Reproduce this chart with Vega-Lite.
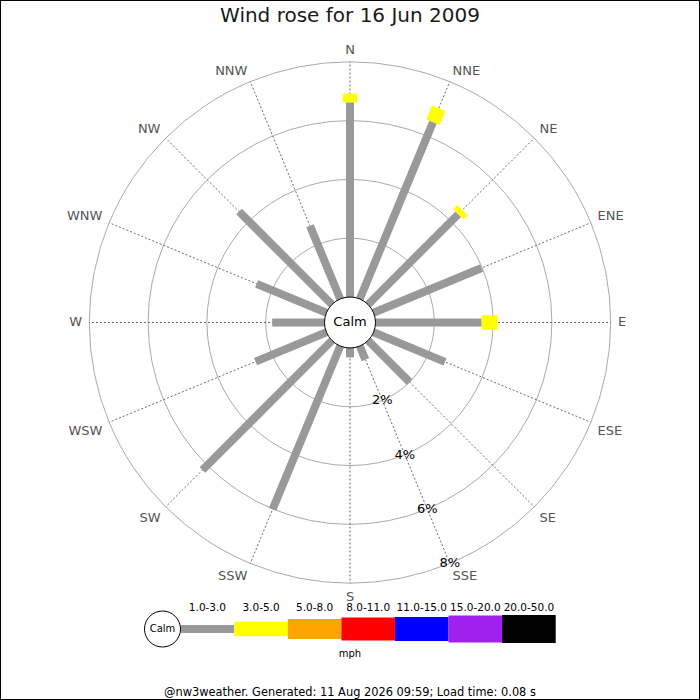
{
  "$schema": "https://vega.github.io/schema/vega-lite/v6.json",
  "width": 700,
  "height": 700,
  "autosize": "none",
  "padding": 0,
  "background": "white",
  "config": {"font": "DejaVu Sans", "view": {"stroke": "black", "strokeWidth": 2}},
  "title": {
    "text": "Wind rose for 16 Jun 2009",
    "frame": "group",
    "offset": -42,
    "fontSize": 20,
    "fontWeight": "normal",
    "color": "#1a1a1a",
    "baseline": "alphabetic"
  },
  "datasets": {
    "directions": [
      {"dir": "N", "angle": 0}, {"dir": "NNE", "angle": 22.5}, {"dir": "NE", "angle": 45}, {"dir": "ENE", "angle": 67.5},
      {"dir": "E", "angle": 90}, {"dir": "ESE", "angle": 112.5}, {"dir": "SE", "angle": 135}, {"dir": "SSE", "angle": 157.5},
      {"dir": "S", "angle": 180}, {"dir": "SSW", "angle": 202.5}, {"dir": "SW", "angle": 225}, {"dir": "WSW", "angle": 247.5},
      {"dir": "W", "angle": 270}, {"dir": "WNW", "angle": 292.5}, {"dir": "NW", "angle": 315}, {"dir": "NNW", "angle": 337.5}
    ],
    "freq": [
      {"dir": "N", "angle": 0, "speed": "1.0-3.0", "pct": 6.62},
      {"dir": "N", "angle": 0, "speed": "3.0-5.0", "pct": 0.30},
      {"dir": "NNE", "angle": 22.5, "speed": "1.0-3.0", "pct": 6.51},
      {"dir": "NNE", "angle": 22.5, "speed": "3.0-5.0", "pct": 0.51},
      {"dir": "NE", "angle": 45, "speed": "1.0-3.0", "pct": 4.34},
      {"dir": "NE", "angle": 45, "speed": "3.0-5.0", "pct": 0.20},
      {"dir": "ENE", "angle": 67.5, "speed": "1.0-3.0", "pct": 3.98},
      {"dir": "E", "angle": 90, "speed": "1.0-3.0", "pct": 3.61},
      {"dir": "E", "angle": 90, "speed": "3.0-5.0", "pct": 0.54},
      {"dir": "ESE", "angle": 112.5, "speed": "1.0-3.0", "pct": 2.63},
      {"dir": "SE", "angle": 135, "speed": "1.0-3.0", "pct": 2.00},
      {"dir": "SSE", "angle": 157.5, "speed": "1.0-3.0", "pct": 0.50},
      {"dir": "S", "angle": 180, "speed": "1.0-3.0", "pct": 0.32},
      {"dir": "SSW", "angle": 202.5, "speed": "1.0-3.0", "pct": 6.01},
      {"dir": "SW", "angle": 225, "speed": "1.0-3.0", "pct": 6.23},
      {"dir": "WSW", "angle": 247.5, "speed": "1.0-3.0", "pct": 2.61},
      {"dir": "W", "angle": 270, "speed": "1.0-3.0", "pct": 1.78},
      {"dir": "WNW", "angle": 292.5, "speed": "1.0-3.0", "pct": 2.57},
      {"dir": "NW", "angle": 315, "speed": "1.0-3.0", "pct": 4.47},
      {"dir": "NNW", "angle": 337.5, "speed": "1.0-3.0", "pct": 2.69}
    ],
    "rings": [
      {"pct": 2, "label": "2%"}, {"pct": 4, "label": "4%"}, {"pct": 6, "label": "6%"}, {"pct": 8, "label": "8%"}
    ],
    "speeds": [
      {"speed": "1.0-3.0", "unit": "mph"}, {"speed": "3.0-5.0", "unit": "mph"}, {"speed": "5.0-8.0", "unit": "mph"},
      {"speed": "8.0-11.0", "unit": "mph"}, {"speed": "11.0-15.0", "unit": "mph"}, {"speed": "15.0-20.0", "unit": "mph"},
      {"speed": "20.0-50.0", "unit": "mph"}
    ],
    "calm": [{"speed": "Calm", "unit": "mph"}],
    "footer": [{"unit": "mph", "note": "@nw3weather. Generated: 11 Aug 2026 09:59; Load time: 0.08 s"}]
  },
  "resolve": {"scale": {"x": "independent", "y": "independent"}},
  "layer": [
    {
      "layer": [
        {
          "data": {"name": "rings"},
          "transform": [{"calculate": "pow(0.8673 + datum.pct, 2)", "as": "r2"}],
          "mark": {"type": "point", "shape": "circle", "filled": false, "stroke": "#aaaaaa", "strokeWidth": 1, "opacity": 1},
          "encoding": {
            "x": {"datum": 0, "type": "quantitative", "scale": {"domain": [-11.905, 11.905], "nice": false, "zero": false}, "axis": null},
            "y": {"datum": 0, "type": "quantitative", "scale": {"domain": [-12.84, 10.969], "nice": false, "zero": false}, "axis": null},
            "size": {"field": "r2", "type": "quantitative", "legend": null, "scale": {"type": "linear", "domain": [0, 141.73], "range": [0, 490000], "zero": true, "nice": false}}
          }
        },
        {
          "data": {"name": "directions"},
          "transform": [
            {"calculate": "0", "as": "o"},
            {"calculate": "8.8673 * sin(datum.angle * PI / 180)", "as": "ex"},
            {"calculate": "8.8673 * cos(datum.angle * PI / 180)", "as": "ey"}
          ],
          "mark": {"type": "rule", "color": "#444444", "strokeWidth": 0.8, "strokeDash": [2, 2]},
          "encoding": {
            "x": {"field": "o", "type": "quantitative", "axis": null},
            "y": {"field": "o", "type": "quantitative", "axis": null},
            "x2": {"field": "ex"},
            "y2": {"field": "ey"}
          }
        },
        {
          "data": {"name": "freq"},
          "transform": [
            {"stack": "pct", "groupby": ["dir"], "sort": [{"field": "speed", "order": "ascending"}], "as": ["p0", "p1"]},
            {"calculate": "toNumber(split(datum.speed, '-')[0])", "as": "lo"},
            {"calculate": "(0.8673 + datum.p0) * sin(datum.angle * PI / 180)", "as": "x0"},
            {"calculate": "(0.8673 + datum.p0) * cos(datum.angle * PI / 180)", "as": "y0"},
            {"calculate": "(0.8673 + datum.p1) * sin(datum.angle * PI / 180)", "as": "x1"},
            {"calculate": "(0.8673 + datum.p1) * cos(datum.angle * PI / 180)", "as": "y1"}
          ],
          "mark": {"type": "rule", "strokeCap": "butt"},
          "encoding": {
            "x": {"field": "x0", "type": "quantitative", "axis": null},
            "y": {"field": "y0", "type": "quantitative", "axis": null},
            "x2": {"field": "x1"},
            "y2": {"field": "y1"},
            "color": {
              "field": "speed", "type": "nominal", "legend": null,
              "scale": {
                "domain": ["1.0-3.0", "3.0-5.0", "5.0-8.0", "8.0-11.0", "11.0-15.0", "15.0-20.0", "20.0-50.0"],
                "range": ["#999999", "#ffff00", "#ffa500", "#ff0000", "#0000ff", "#a020f0", "#000000"]
              }
            },
            "strokeWidth": {
              "field": "lo", "type": "quantitative", "legend": null,
              "scale": {"type": "threshold", "domain": [3, 5, 8, 11, 15, 20], "range": [8, 14.5, 20, 23, 24, 27, 28]}
            }
          }
        },
        {
          "data": {"values": [{"label": "Calm"}]},
          "mark": {"type": "point", "shape": "circle", "filled": true, "fill": "white", "stroke": "black", "strokeWidth": 1, "size": 2601, "opacity": 1},
          "encoding": {
            "x": {"datum": 0, "type": "quantitative", "axis": null},
            "y": {"datum": 0, "type": "quantitative", "axis": null}
          }
        },
        {
          "data": {"values": [{"label": "Calm"}]},
          "mark": {"type": "text", "fontSize": 13, "color": "black", "baseline": "middle"},
          "encoding": {
            "x": {"datum": 0, "type": "quantitative", "axis": null},
            "y": {"datum": 0, "type": "quantitative", "axis": null},
            "text": {"field": "label"}
          }
        },
        {
          "data": {"name": "rings"},
          "transform": [
            {"calculate": "(0.8673 + datum.pct) * sin(157.5 * PI / 180)", "as": "lx"},
            {"calculate": "(0.8673 + datum.pct) * cos(157.5 * PI / 180)", "as": "ly"}
          ],
          "mark": {"type": "text", "fontSize": 13, "color": "black", "baseline": "middle", "align": "center"},
          "encoding": {
            "x": {"field": "lx", "type": "quantitative", "axis": null},
            "y": {"field": "ly", "type": "quantitative", "axis": null},
            "text": {"field": "label"}
          }
        },
        {
          "data": {"name": "directions"},
          "transform": [
            {"calculate": "9.116 * sin(datum.angle * PI / 180)", "as": "lx"},
            {"calculate": "9.116 * cos(datum.angle * PI / 180)", "as": "ly"}
          ],
          "mark": {
            "type": "text",
            "fontSize": 13,
            "color": "#555555",
            "align": {"expr": "datum.angle == 0 || datum.angle == 180 ? 'center' : (datum.angle < 180 ? 'left' : 'right')"},
            "baseline": {"expr": "datum.angle == 90 || datum.angle == 270 ? 'middle' : ((datum.angle < 90 || datum.angle > 270) ? 'alphabetic' : 'top')"}
          },
          "encoding": {
            "x": {"field": "lx", "type": "quantitative", "axis": null},
            "y": {"field": "ly", "type": "quantitative", "axis": null},
            "text": {"field": "dir"}
          }
        }
      ]
    },
    {
      "layer": [
        {
          "data": {"name": "speeds"},
          "transform": [{"calculate": "toNumber(split(datum.speed, '-')[0])", "as": "lo"}],
          "mark": {"type": "rule", "xOffset": -26.8, "x2Offset": 26.8, "strokeCap": "butt"},
          "encoding": {
            "x": {
              "field": "speed", "type": "ordinal", "axis": null,
              "scale": {
                "domain": ["Calm", "1.0-3.0", "3.0-5.0", "5.0-8.0", "8.0-11.0", "11.0-15.0", "15.0-20.0", "20.0-50.0"],
                "range": [127.1, 555.7], "paddingInner": 0, "paddingOuter": 0
              }
            },
            "x2": {"field": "speed"},
            "y": {"field": "unit", "type": "nominal", "axis": null, "scale": {"domain": ["mph"], "range": [614, 644], "paddingInner": 0, "paddingOuter": 0}},
            "color": {"field": "speed", "type": "nominal", "legend": null},
            "strokeWidth": {
              "field": "lo", "type": "quantitative", "legend": null,
              "scale": {"type": "threshold", "domain": [3, 5, 8, 11, 15, 20], "range": [8, 14.5, 20, 23, 24, 27, 28]}
            }
          }
        },
        {
          "data": {"name": "speeds"},
          "mark": {"type": "text", "fontSize": 10.5, "color": "black", "baseline": "middle", "yOffset": -21.5},
          "encoding": {
            "x": {"field": "speed", "type": "ordinal", "axis": null},
            "y": {"field": "unit", "type": "nominal", "axis": null},
            "text": {"field": "speed"}
          }
        },
        {
          "data": {"name": "calm"},
          "mark": {"type": "point", "shape": "circle", "filled": true, "fill": "white", "stroke": "black", "strokeWidth": 1, "size": 1296, "opacity": 1, "xOffset": 8.6},
          "encoding": {
            "x": {"field": "speed", "type": "ordinal", "axis": null},
            "y": {"field": "unit", "type": "nominal", "axis": null}
          }
        },
        {
          "data": {"name": "calm"},
          "mark": {"type": "text", "fontSize": 10, "color": "black", "baseline": "middle", "xOffset": 8.6},
          "encoding": {
            "x": {"field": "speed", "type": "ordinal", "axis": null},
            "y": {"field": "unit", "type": "nominal", "axis": null},
            "text": {"field": "speed"}
          }
        },
        {
          "data": {"name": "calm"},
          "mark": {"type": "text", "fontSize": 10, "color": "black", "baseline": "middle", "yOffset": 25},
          "encoding": {
            "y": {"field": "unit", "type": "nominal", "axis": null},
            "text": {"field": "unit"}
          }
        },
        {
          "data": {"name": "footer"},
          "mark": {"type": "text", "fontSize": 11.4, "color": "black", "baseline": "middle", "yOffset": 64},
          "encoding": {
            "y": {"field": "unit", "type": "nominal", "axis": null},
            "text": {"field": "note"}
          }
        }
      ]
    }
  ]
}
